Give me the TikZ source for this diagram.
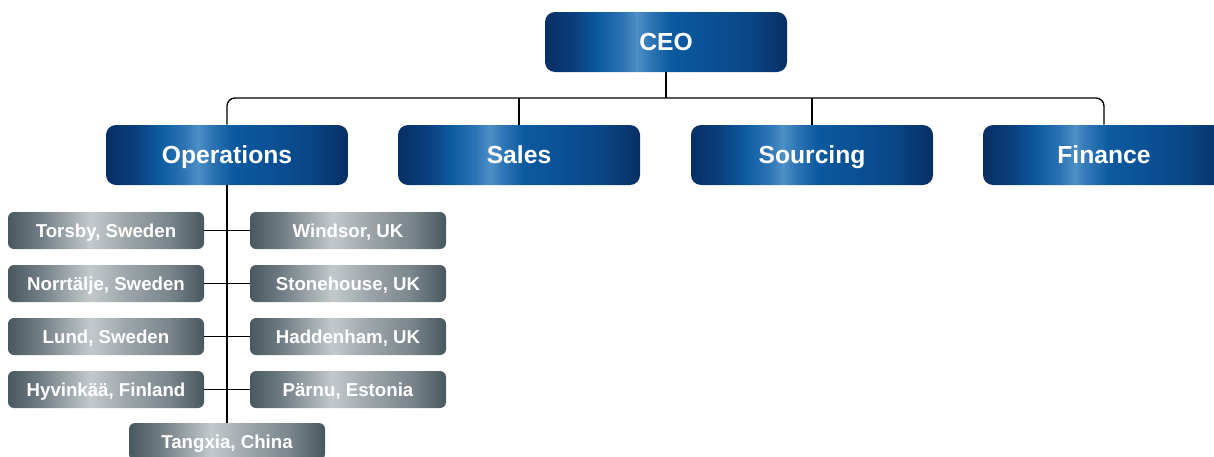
\documentclass[tikz,border=0pt]{standalone}
\usepackage{fontspec}
\setmainfont{Liberation Sans}
\usepackage{tikz}
\usetikzlibrary{positioning}

\definecolor{bdark}{HTML}{072F63}
\definecolor{bdeep}{HTML}{0B3F7E}
\definecolor{bmid}{HTML}{0C5AA0}
\definecolor{bglow}{HTML}{2C74B4}
\definecolor{blight}{HTML}{4D8FC6}
\definecolor{bsoft}{HTML}{0A4F93}
\definecolor{bnavy}{HTML}{0A4585}
\definecolor{gdark}{HTML}{49575F}
\definecolor{gmid}{HTML}{6D7A81}
\definecolor{glight}{HTML}{C3C9CC}
\definecolor{gsoft}{HTML}{9AA3A8}
\definecolor{gslate}{HTML}{7A868C}

\pgfdeclarehorizontalshading{bluebar}{100bp}{color(0bp)=(bdark); color(25bp)=(bdark);
  color(31bp)=(bdeep); color(36bp)=(bmid); color(41bp)=(bglow); color(44bp)=(blight);
  color(47bp)=(bglow); color(51bp)=(bmid); color(60bp)=(bsoft); color(67.5bp)=(bnavy);
  color(75bp)=(bdark); color(100bp)=(bdark)}
\pgfdeclarehorizontalshading{greybar}{100bp}{color(0bp)=(gdark); color(25bp)=(gdark);
  color(32.5bp)=(gmid); color(46bp)=(glight); color(56bp)=(gsoft); color(66bp)=(gslate);
  color(75bp)=(gdark); color(100bp)=(gdark)}

\begin{document}
\begin{tikzpicture}[x=0.75pt, y=-0.75pt,
  unit/.style={rounded corners=7.5pt, minimum width=181.5pt, minimum height=45pt, inner sep=0pt,
    text height=13.25pt, text depth=0pt,
    shade, shading=bluebar, text=white, font=\bfseries\fontsize{18.5}{20}\selectfont},
  site/.style={rounded corners=4.5pt, minimum width=147pt, minimum height=27.75pt, inner sep=0pt,
    text height=10pt, text depth=0pt,
    shade, shading=greybar, text=white, font=\bfseries\fontsize{14}{16}\selectfont},
  link/.style={draw=black, line width=1pt}]
  \useasboundingbox (0,0) rectangle (1214,457);
  \clip (0,0) rectangle (1214,457);

  \node[unit] (ceo) at (666,42) {CEO};
  \node[unit] (ops) at (227,155) {Operations};
  \node[unit] (sales) at (519,155) {Sales};
  \node[unit] (src) at (812,155) {Sourcing};
  \node[unit] (fin) at (1104,155) {Finance};
  \coordinate (hub) at (666,98);

  \node[site] (torsby) at (106,230.5) {Torsby, Sweden};
  \node[site] (norrtalje) at (106,283.5) {Norrtälje, Sweden};
  \node[site] (lund) at (106,336.5) {Lund, Sweden};
  \node[site] (hyvinkaa) at (106,389.5) {Hyvinkää, Finland};
  \node[site] (windsor) at (348,230.5) {Windsor, UK};
  \node[site] (stonehouse) at (348,283.5) {Stonehouse, UK};
  \node[site] (haddenham) at (348,336.5) {Haddenham, UK};
  \node[site] (parnu) at (348,389.5) {Pärnu, Estonia};
  \node[site] (tangxia) at (227,441.5) {Tangxia, China};

  \draw[link, rounded corners=6pt] (ops.north) |- (hub) -| (fin.north);
  \draw[link] (ceo.south) -- (hub);
  \draw[link] (sales.north) -- (sales.north |- hub);
  \draw[link] (src.north) -- (src.north |- hub);
  \draw[link] (ops.south) -- (tangxia.north);
  \foreach \l/\r in {torsby/windsor, norrtalje/stonehouse, lund/haddenham, hyvinkaa/parnu}
    \draw[link] (\l.east) -- (\r.west);
\end{tikzpicture}
\end{document}
